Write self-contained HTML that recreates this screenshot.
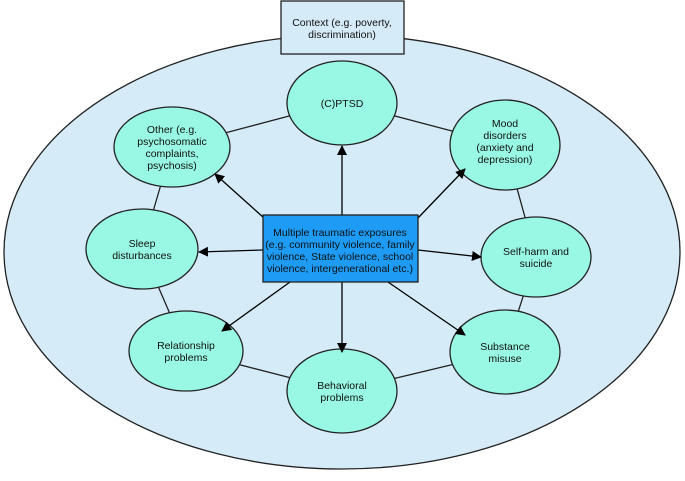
<!DOCTYPE html><html><head><style>body{margin:0;background:#fff}svg text{font-family:"Liberation Sans",sans-serif;font-size:10.5px;fill:#111;text-anchor:middle}</style></head><body>
<svg width="685" height="476" viewBox="0 0 685 476">
<defs><marker id="a" markerWidth="10" markerHeight="10" refX="9" refY="5" orient="auto" markerUnits="userSpaceOnUse"><path d="M0,0 L10,5 L0,10 z" fill="#000"/></marker></defs>
<ellipse cx="342" cy="252" rx="338" ry="217" fill="#d6ebf8" stroke="#222" stroke-width="1.3"/>
<rect x="281" y="1" width="123" height="53" fill="#d6ebf8" stroke="#222" stroke-width="1.3"/>
<text x="342" y="26">Context (e.g. poverty,</text><text x="342" y="38">discrimination)</text>
<g stroke="#222" stroke-width="1.3">
<line x1="342" y1="102" x2="172" y2="147"/><line x1="342" y1="102" x2="505" y2="145"/>
<line x1="505" y1="145" x2="536" y2="257"/><line x1="536" y1="257" x2="505" y2="352"/>
<line x1="505" y1="352" x2="342" y2="391"/><line x1="342" y1="391" x2="186" y2="351"/>
<line x1="186" y1="351" x2="142" y2="249"/><line x1="142" y1="249" x2="172" y2="147"/>
</g>
<g fill="#99f8e3" stroke="#222" stroke-width="1.3">
<ellipse cx="342" cy="103" rx="55" ry="42"/><ellipse cx="172" cy="147" rx="58" ry="40"/>
<ellipse cx="505" cy="145" rx="55" ry="45"/><ellipse cx="142" cy="249" rx="56" ry="40"/>
<ellipse cx="536" cy="257" rx="55" ry="40"/><ellipse cx="186" cy="351" rx="57" ry="40"/>
<ellipse cx="342" cy="391" rx="55" ry="42"/><ellipse cx="505" cy="352" rx="55" ry="42"/>
</g>
<g stroke="#000" stroke-width="1.3" marker-end="url(#a)">
<line x1="342" y1="215" x2="342" y2="146"/><line x1="264" y1="218" x2="215" y2="174"/>
<line x1="418" y1="218" x2="465" y2="169"/><line x1="263" y1="250" x2="199" y2="252"/>
<line x1="418" y1="250" x2="481" y2="257"/><line x1="290" y1="282" x2="222" y2="331"/>
<line x1="342" y1="282" x2="342" y2="352"/><line x1="388" y1="282" x2="465" y2="335"/>
</g>
<rect x="263" y="215" width="155" height="67" fill="#1e9bf5" stroke="#222" stroke-width="1.3"/>
<text x="340" y="236">Multiple traumatic exposures</text><text x="340" y="248">(e.g. community violence, family</text>
<text x="340" y="260">violence, State violence, school</text><text x="340" y="272">violence, intergenerational etc.)</text>
<text x="342" y="107">(C)PTSD</text>
<text x="172" y="133">Other (e.g.</text><text x="172" y="145">psychosomatic</text><text x="172" y="157">complaints,</text><text x="172" y="169">psychosis)</text>
<text x="505" y="127">Mood</text><text x="505" y="139">disorders</text><text x="505" y="151">(anxiety and</text><text x="505" y="163">depression)</text>
<text x="142" y="247">Sleep</text><text x="142" y="259">disturbances</text>
<text x="536" y="255">Self-harm and</text><text x="536" y="267">suicide</text>
<text x="186" y="349">Relationship</text><text x="186" y="361">problems</text>
<text x="342" y="389">Behavioral</text><text x="342" y="401">problems</text>
<text x="505" y="350">Substance</text><text x="505" y="362">misuse</text>
</svg></body></html>
